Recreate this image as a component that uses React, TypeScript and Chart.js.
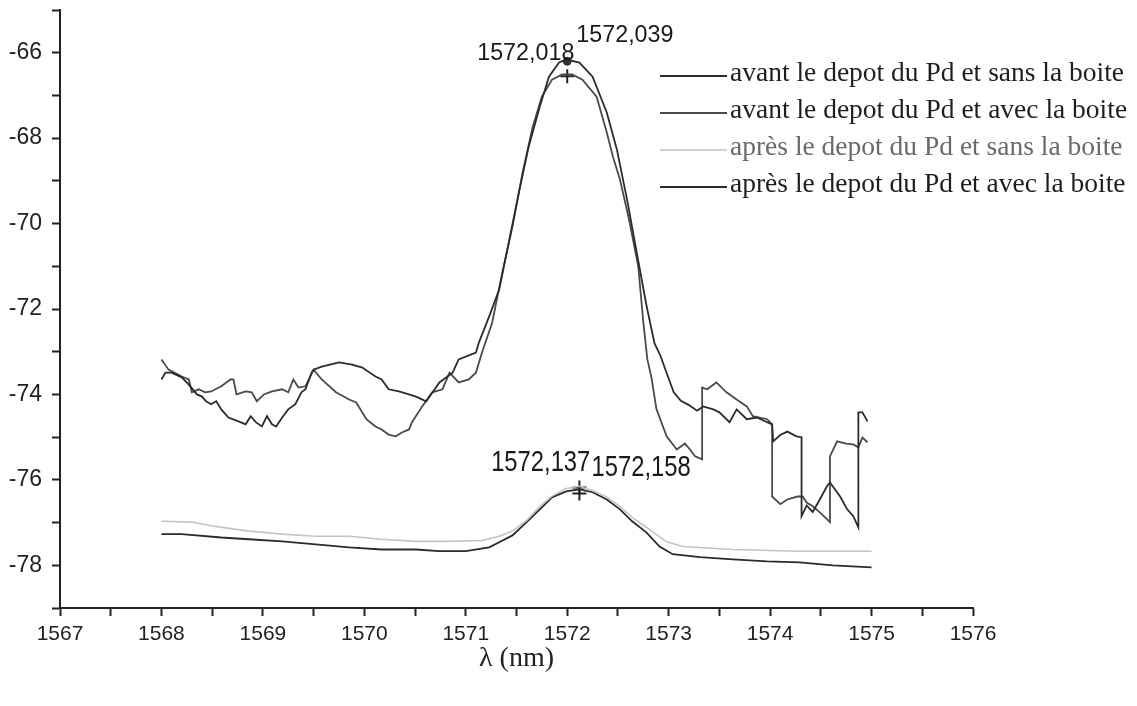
import React, { useEffect, useRef } from "react";
import { Chart, registerables } from "chart.js";

Chart.register(...registerables);

// ---------- data ----------
const seriesNames = [
  "avant le depot du Pd et sans la boite",
  "avant le depot du Pd et avec la boite",
  "après le depot du Pd et sans la boite",
  "après le depot du Pd et avec la boite",
];

const avantSansX = [
  1568.0, 1568.04, 1568.1, 1568.2, 1568.27, 1568.35, 1568.4, 1568.44, 1568.49, 1568.54, 1568.59, 1568.66, 1568.76,
  1568.83, 1568.88, 1568.93, 1568.99, 1569.04, 1569.09, 1569.13, 1569.19, 1569.25, 1569.32, 1569.38, 1569.42, 1569.48,
  1569.5, 1569.58, 1569.75, 1569.88, 1569.98, 1570.11, 1570.17, 1570.24, 1570.34, 1570.44, 1570.51, 1570.61, 1570.74,
  1570.87, 1570.93, 1571.1, 1571.13, 1571.23, 1571.33, 1571.43, 1571.53, 1571.62, 1571.73, 1571.82, 1571.92, 1571.99,
  1572.12, 1572.25, 1572.39, 1572.49, 1572.59, 1572.68, 1572.78, 1572.86, 1572.92, 1572.98, 1573.05, 1573.12, 1573.2,
  1573.28, 1573.34, 1573.44, 1573.5, 1573.6, 1573.67, 1573.77, 1573.87, 1573.97, 1574.02, 1574.03, 1574.1, 1574.17,
  1574.26, 1574.31, 1574.31, 1574.36, 1574.42, 1574.49, 1574.56, 1574.59, 1574.69, 1574.76, 1574.82, 1574.87, 1574.87,
  1574.91, 1574.96,
];
const avantSansY = [
  -73.65, -73.49, -73.49, -73.6, -73.77, -74.0, -74.05, -74.16, -74.23, -74.16, -74.35, -74.54, -74.63, -74.7, -74.51,
  -74.65, -74.75, -74.51, -74.7, -74.75, -74.54, -74.35, -74.23, -73.95, -73.88, -73.49, -73.42, -73.35, -73.25,
  -73.3, -73.37, -73.58, -73.65, -73.88, -73.93, -74.0, -74.05, -74.16, -73.72, -73.49, -73.18, -73.02, -72.78,
  -72.18, -71.54, -70.37, -69.2, -68.2, -67.26, -66.56, -66.23, -66.16, -66.23, -66.56, -67.4, -68.27, -69.44,
  -70.61, -71.9, -72.8, -73.1, -73.5, -73.95, -74.15, -74.25, -74.38, -74.28, -74.35, -74.42, -74.65, -74.35,
  -74.58, -74.54, -74.65, -74.7, -75.1, -74.95, -74.87, -74.98, -75.0, -76.85, -76.6, -76.75, -76.46, -76.15,
  -76.06, -76.39, -76.69, -76.85, -77.11, -74.42, -74.42, -74.63,
];

const avantAvecX = [
  1568.0, 1568.07, 1568.2, 1568.27, 1568.3, 1568.37, 1568.43, 1568.49, 1568.59, 1568.68, 1568.71, 1568.74, 1568.83,
  1568.89, 1568.94, 1569.01, 1569.09, 1569.19, 1569.25, 1569.3, 1569.35, 1569.42, 1569.5, 1569.58, 1569.72, 1569.85,
  1569.92, 1570.02, 1570.11, 1570.17, 1570.24, 1570.31, 1570.37, 1570.44, 1570.47, 1570.57, 1570.67, 1570.77,
  1570.84, 1570.93, 1571.03, 1571.1, 1571.16, 1571.26, 1571.36, 1571.46, 1571.56, 1571.66, 1571.75, 1571.85,
  1571.95, 1572.05, 1572.15, 1572.29, 1572.39, 1572.45, 1572.52, 1572.61, 1572.7, 1572.75, 1572.79, 1572.83,
  1572.88, 1572.98, 1573.08, 1573.16, 1573.21, 1573.26, 1573.33, 1573.33, 1573.38, 1573.47, 1573.57, 1573.67,
  1573.77, 1573.83, 1573.97, 1574.02, 1574.02, 1574.1, 1574.17, 1574.27, 1574.32, 1574.36, 1574.42, 1574.49,
  1574.56, 1574.59, 1574.59, 1574.66, 1574.75, 1574.82, 1574.87, 1574.91, 1574.96,
];
const avantAvecY = [
  -73.18, -73.42, -73.58, -73.65, -73.95, -73.88, -73.95, -73.93, -73.81, -73.65, -73.65, -74.0, -73.93, -73.95,
  -74.16, -74.0, -73.93, -73.88, -73.95, -73.65, -73.84, -73.81, -73.42, -73.65, -73.95, -74.12, -74.19, -74.58,
  -74.75, -74.82, -74.94, -74.98, -74.89, -74.82, -74.65, -74.28, -73.95, -73.88, -73.49, -73.72, -73.65, -73.49,
  -73.02, -72.32, -71.15, -70.07, -68.81, -67.73, -67.03, -66.63, -66.51, -66.51, -66.63, -67.03, -67.87, -68.43,
  -68.97, -69.91, -71.0, -72.3, -73.18, -73.6, -74.35, -74.98, -75.29, -75.15, -75.29, -75.45, -75.52, -73.84,
  -73.88, -73.72, -73.95, -74.12, -74.28, -74.51, -74.58, -74.7, -76.39, -76.57, -76.46, -76.39, -76.39, -76.53,
  -76.62, -76.76, -76.92, -76.99, -75.45, -75.1, -75.15, -75.17, -75.24, -75.01, -75.12,
];

const apresSansX = [
  1568.0, 1568.3, 1568.53, 1568.86, 1569.19, 1569.52, 1569.85, 1570.17, 1570.51, 1570.83, 1571.16, 1571.33, 1571.46,
  1571.6, 1571.73, 1571.85, 1571.99, 1572.12, 1572.25, 1572.39, 1572.52, 1572.64, 1572.78, 1572.98, 1573.14, 1573.63,
  1574.29, 1574.96, 1575.0,
];
const apresSansY = [
  -76.97, -76.99, -77.09, -77.2, -77.27, -77.32, -77.32, -77.39, -77.44, -77.44, -77.42, -77.32, -77.2, -76.95,
  -76.62, -76.38, -76.2, -76.15, -76.25, -76.4, -76.62, -76.88, -77.11, -77.45, -77.56, -77.63, -77.67, -77.67,
  -77.67,
];

const apresAvecX = [
  1568.0, 1568.2, 1568.59, 1568.86, 1569.19, 1569.52, 1569.85, 1570.17, 1570.51, 1570.74, 1571.0, 1571.23, 1571.33,
  1571.46, 1571.6, 1571.73, 1571.85, 1571.99, 1572.12, 1572.25, 1572.39, 1572.52, 1572.64, 1572.78, 1572.91, 1573.04,
  1573.31, 1573.63, 1573.97, 1574.29, 1574.62, 1575.0,
];
const apresAvecY = [
  -77.27, -77.27, -77.35, -77.39, -77.44, -77.51, -77.58, -77.63, -77.63, -77.67, -77.67, -77.58, -77.46, -77.3,
  -76.99, -76.69, -76.41, -76.27, -76.22, -76.29, -76.46, -76.69, -76.97, -77.23, -77.56, -77.74, -77.81, -77.86,
  -77.91, -77.93, -78.0, -78.05,
];

// peak markers
const peakDotX = [1572.0];
const peakDotY = [-66.2];
const peakCrossX = [1572.0, 1572.12, 1572.12];
const peakCrossY = [-66.55, -76.18, -76.32];

// peak annotations (text anchored at data coordinates)
const peakLabelTexts = ["1572,018", "1572,039", "1572,137", "1572,158"];
const peakLabelX = [1572.07, 1572.09, 1571.25, 1572.24];
const peakLabelY = [-66.16, -65.74, -75.8, -75.9];

// axis ranges / ticks
const xMin = 1567;
const xMax = 1576;
const yMin = -79;
const yMax = -65;

// ---------- styles ----------
const lineColors = ["#2b2b2b", "#4a4a4a", "#c4c4c4", "#2b2b2b"];
const legendTextColors = ["#1e1e1e", "#1e1e1e", "#6a6a6a", "#1e1e1e"];

const pairs = (xs: number[], ys: number[]) => xs.map((x, i) => ({ x, y: ys[i] }));

const overlayPlugin = {
  id: "overlay",
  afterDraw(chart: any) {
    const { ctx, scales } = chart;
    const xs = scales.x;
    const ys = scales.y;
    ctx.save();
    // peak labels
    peakLabelTexts.forEach((t, i) => {
      const px = xs.getPixelForValue(peakLabelX[i]);
      const py = ys.getPixelForValue(peakLabelY[i]);
      const upper = i < 2;
      const size = upper ? 24 : 29;
      const sx = upper ? 0.97 : 0.82;
      ctx.save();
      ctx.translate(px, py);
      ctx.scale(sx, 1);
      ctx.font = `${size}px "Liberation Sans", Arial, sans-serif`;
      ctx.fillStyle = "#1a1a1a";
      ctx.textBaseline = "alphabetic";
      ctx.textAlign = i === 0 ? "right" : "left";
      ctx.fillText(t, 0, 0);
      ctx.restore();
    });
    // legend
    const lineStart = 660;
    const lineEnd = 727;
    const textX = 730;
    const firstY = 74;
    const rowH = 37;
    seriesNames.forEach((name, i) => {
      const y = firstY + i * rowH;
      ctx.strokeStyle = lineColors[i];
      ctx.lineWidth = i === 2 ? 1.5 : 2;
      ctx.beginPath();
      ctx.moveTo(lineStart, y + 2);
      ctx.lineTo(lineEnd, y + 2);
      ctx.stroke();
      ctx.font = `27.5px "Liberation Serif", "Times New Roman", serif`;
      ctx.fillStyle = legendTextColors[i];
      ctx.textBaseline = "middle";
      ctx.textAlign = "left";
      ctx.fillText(name, textX, y);
    });
    ctx.restore();
  },
};

export default function App() {
  const canvasRef = useRef<HTMLCanvasElement | null>(null);

  useEffect(() => {
    document.body.style.margin = "0";
    const canvas = canvasRef.current;
    if (!canvas) return;
    const mainData = [
      pairs(avantSansX, avantSansY),
      pairs(avantAvecX, avantAvecY),
      pairs(apresSansX, apresSansY),
      pairs(apresAvecX, apresAvecY),
    ];
    const datasets: any[] = mainData.map((d, i) => ({
      label: seriesNames[i],
      data: d,
      borderColor: lineColors[i],
      borderWidth: i === 2 ? 1.6 : 1.8,
      pointRadius: 0,
      tension: 0,
      fill: false,
    }));
    datasets.push({
      label: "peak-dot",
      data: pairs(peakDotX, peakDotY),
      showLine: false,
      pointStyle: "circle",
      pointRadius: 4,
      pointBackgroundColor: "#333",
      pointBorderColor: "#333",
    });
    datasets.push({
      label: "peak-cross",
      data: pairs(peakCrossX, peakCrossY),
      showLine: false,
      pointStyle: "cross",
      pointRadius: 7,
      pointBorderWidth: 2,
      pointBorderColor: "#222",
    });

    const tickFont = { family: '"Liberation Sans", Arial, sans-serif', size: 21 };
    const chart = new Chart(canvas, {
      type: "line",
      data: { datasets },
      options: {
        responsive: false,
        animation: false,
        layout: { padding: { left: 0, right: 1137 - 973, top: 10, bottom: 0 } },
        plugins: { legend: { display: false }, tooltip: { enabled: false } },
        scales: {
          x: {
            type: "linear",
            min: xMin,
            max: xMax,
            position: "bottom",
            afterFit: (s: any) => {
              s.height = 98;
              s.paddingLeft = 0;
              s.paddingRight = 0;
            },
            ticks: {
              stepSize: 0.5,
              autoSkip: false,
              maxRotation: 0,
              minRotation: 0,
              padding: 6,
              color: "#222",
              font: tickFont,
              callback: (v: any) => (Number.isInteger(Number(v)) ? String(v) : ""),
            },
            grid: {
              display: true,
              drawOnChartArea: false,
              drawTicks: true,
              tickLength: 8,
              tickColor: "#222",
              tickWidth: 2,
            },
            border: { display: true, color: "#222", width: 2 },
            title: {
              display: true,
              text: "λ (nm)",
              color: "#222",
              font: { family: '"Liberation Serif", "Times New Roman", serif', size: 28 },
              padding: { top: 0, bottom: 31 },
            },
          },
          y: {
            type: "linear",
            min: yMin,
            max: yMax,
            afterFit: (s: any) => {
              s.width = 60;
              s.paddingTop = 0;
              s.paddingBottom = 0;
            },
            ticks: {
              stepSize: 1,
              autoSkip: false,
              padding: 10,
              color: "#222",
              font: { family: '"Liberation Sans", Arial, sans-serif', size: 23 },
              callback: (v: any) => (Number(v) % 2 === 0 ? String(v) : ""),
            },
            grid: {
              display: true,
              drawOnChartArea: false,
              drawTicks: true,
              tickLength: 8,
              tickColor: "#222",
              tickWidth: 2,
            },
            border: { display: true, color: "#222", width: 2 },
          },
        },
      },
      plugins: [overlayPlugin],
    } as any);
    return () => chart.destroy();
  }, []);

  return (
    <div style={{ position: "fixed", left: 0, top: 0, width: 1137, height: 706, background: "#fff" }}>
      <canvas ref={canvasRef} width={1137} height={706} style={{ display: "block", width: 1137, height: 706 }} />
    </div>
  );
}
